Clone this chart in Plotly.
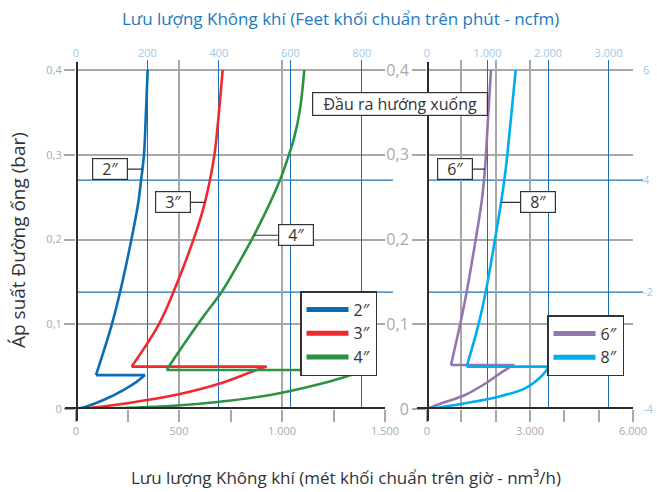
import plotly.graph_objects as go

# ---- Air flow (nm3/h) vs. line pressure (bar), one curve per outlet size ----
# each curve: rising branch to the peak flow, step back, then the upper branch
flow_2_low = [0, 52, 133, 230, 294, 335]
pres_2_low = [0, 0.003, 0.0106, 0.0224, 0.032, 0.040]
flow_2_up = [97, 173, 214, 278, 302, 316, 330, 340, 348]
pres_2_up = [0.040, 0.099, 0.138, 0.211, 0.243, 0.270, 0.300, 0.353, 0.400]

flow_3_low = [0, 133, 294, 505, 699, 876, 925]
pres_3_low = [0, 0.003, 0.0086, 0.0177, 0.030, 0.046, 0.050]
flow_3_up = [270, 400, 473, 586, 625, 650, 672, 690, 712]
pres_3_up = [0.050, 0.099, 0.138, 0.211, 0.243, 0.270, 0.300, 0.340, 0.400]

flow_4_low = [0, 214, 456, 699, 942, 1184, 1379, 1432]
pres_4_low = [0, 0.001, 0.0035, 0.0086, 0.0165, 0.0295, 0.043, 0.046]
flow_4_up = [440, 521, 618, 707, 780, 877, 990, 1031, 1058, 1087, 1108]
pres_4_up = [0.046, 0.0755, 0.109, 0.138, 0.168, 0.211, 0.270, 0.298, 0.319, 0.353, 0.400]

flow_6_low = [0, 427, 1107, 1738, 2272, 2543]
pres_6_low = [0, 0.0067, 0.0165, 0.031, 0.046, 0.052]
flow_6_up = [699, 961, 1155, 1418, 1600, 1690, 1780, 1864]
pres_6_up = [0.052, 0.099, 0.138, 0.200, 0.247, 0.284, 0.345, 0.400]

flow_8_low = [0, 330, 1107, 2078, 2854, 3340, 3553]
pres_8_low = [0, 0.0015, 0.0067, 0.0145, 0.0244, 0.039, 0.050]
flow_8_up = [1155, 1495, 1709, 1980, 2155, 2252, 2340, 2470, 2583]
pres_8_up = [0.050, 0.099, 0.138, 0.200, 0.243, 0.270, 0.300, 0.353, 0.400]

# axis ticks
pres_ticks = [0, 0.1, 0.2, 0.3, 0.4]
nm3h_left_ticks = [0, 500, 1000, 1500]
nm3h_left_text = ["0", "500", "1.000", "1.500"]
nm3h_left_minor = [250, 750, 1250]
nm3h_right_ticks = [0, 1000, 2000, 3000, 6000]
nm3h_right_text = ["0", "", "", "3.000", "6.000"]
nm3h_right_minor = [4000, 5000]
ncfm_left_ticks = [0, 200, 400, 600, 800]
ncfm_left_text = ["0", "200", "400", "600", "800"]
ncfm_right_ticks = [0, 1000, 2000, 3000]
ncfm_right_text = ["0", "1.000", "2.000", "3.000"]
psi_ticks = [0, 0.138, 0.27, 0.4]
psi_text = ["-4", "-2", "4", "6"]

COL = {"2″": "#0a6db3", "3″": "#ee2a2f", "4″": "#2e9243",
       "6″": "#9475ae", "8″": "#00adef"}
GRID = "#a8a8a8"
BLUE_GRID = "#1c6fb6"
AXIS = "#2b2b2b"
TXT = "#333333"
LIGHT_BLUE = "#9cc8ea"
W, H = 657, 492

X_LEFT = [76 / W, 385 / W]
X_RIGHT = [427 / W, 633 / W]
Y_DOM = [1 - 409 / H, 1 - 60 / H]
Y_RANGE = [0, 0.4 * (409 - 60) / (409 - 70)]

series = [
    ("2″", flow_2_low, pres_2_low, flow_2_up, pres_2_up, "x", "y", "legend"),
    ("3″", flow_3_low, pres_3_low, flow_3_up, pres_3_up, "x", "y", "legend"),
    ("4″", flow_4_low, pres_4_low, flow_4_up, pres_4_up, "x", "y", "legend"),
    ("6″", flow_6_low, pres_6_low, flow_6_up, pres_6_up, "x2", "y2", "legend2"),
    ("8″", flow_8_low, pres_8_low, flow_8_up, pres_8_up, "x2", "y2", "legend2"),
]

fig = go.Figure()
for name, lx, ly, ux, uy, xa, ya, lg in series:
    segments = [
        (lx, ly, "spline"),                            # rising branch
        ([lx[-1], ux[0]], [ly[-1], uy[0]], "linear"),  # step back
        (ux, uy, "spline"),                            # upper branch
    ]
    for sx, sy, shape in segments:
        fig.add_trace(go.Scatter(
            x=sx, y=sy, xaxis=xa, yaxis=ya, mode="lines", name=name,
            legendgroup=name, showlegend=False, hoverinfo="skip",
            line=dict(color=COL[name], width=2.6, shape=shape,
                      smoothing=1.1 if shape == "spline" else None)))
    # thicker swatch for the legend
    fig.add_trace(go.Scatter(
        x=[None], y=[None], xaxis=xa, yaxis=ya, mode="lines", name=name,
        legendgroup=name, line=dict(color=COL[name], width=5), legend=lg,
        showlegend=True))

# empty traces so the secondary scales are drawn
for xa, ya in [("x3", "y"), ("x4", "y2"), ("x2", "y3")]:
    fig.add_trace(go.Scatter(x=[None], y=[None], xaxis=xa, yaxis=ya,
                             showlegend=False, hoverinfo="skip"))

tick_font = dict(family="Open Sans", size=11, color="#aaaaaa")
blue_font = dict(family="Open Sans", size=11, color=LIGHT_BLUE)

common_x = dict(showline=False, zeroline=False, ticks="outside", ticklen=12,
                tickwidth=1.5, tickcolor=GRID, showgrid=True, gridcolor=GRID,
                gridwidth=1.5, tickfont=tick_font, tickmode="array", automargin=False)
fig.update_layout(
    xaxis=dict(domain=X_LEFT, range=[0, 1500], anchor="y",
               tickvals=nm3h_left_ticks, ticktext=nm3h_left_text,
               minor=dict(tickmode="array", tickvals=nm3h_left_minor, ticks="outside",
                          ticklen=12, tickwidth=1.5, tickcolor=GRID, showgrid=False),
               **common_x),
    xaxis2=dict(domain=X_RIGHT, range=[0, 6000], anchor="y2",
                tickvals=nm3h_right_ticks, ticktext=nm3h_right_text,
                minor=dict(tickmode="array", tickvals=nm3h_right_minor, ticks="outside",
                           ticklen=12, tickwidth=1.5, tickcolor=GRID, showgrid=False),
                **common_x),
    xaxis3=dict(overlaying="x", side="top", anchor="y", range=[0, 865],
                tickmode="array", tickvals=ncfm_left_ticks, ticktext=ncfm_left_text,
                showgrid=True, gridcolor=BLUE_GRID, gridwidth=1.2, zeroline=False,
                showline=False, ticks="", tickfont=blue_font, automargin=False),
    xaxis4=dict(overlaying="x2", side="top", anchor="y2", range=[0, 3405],
                tickmode="array", tickvals=ncfm_right_ticks, ticktext=ncfm_right_text,
                showgrid=True, gridcolor=BLUE_GRID, gridwidth=1.2, zeroline=False,
                showline=False, ticks="", tickfont=blue_font, automargin=False),
    yaxis=dict(domain=Y_DOM, range=Y_RANGE, anchor="x", tickmode="array",
               tickvals=pres_ticks, ticks="outside", ticklen=11, tickwidth=1.5,
               tickcolor=GRID, showgrid=True, gridcolor=GRID, gridwidth=1.5,
               zeroline=False, showline=False, tickfont=tick_font, automargin=False),
    yaxis2=dict(domain=Y_DOM, range=Y_RANGE, anchor="x2", tickmode="array",
                tickvals=pres_ticks, ticks="outside", ticklen=14, tickwidth=1.5,
                tickcolor=GRID, showgrid=True, gridcolor=GRID, gridwidth=1.5,
                zeroline=False, showline=False, automargin=False,
                tickfont=dict(family="Open Sans", size=16, color="#aaaaaa")),
    yaxis3=dict(overlaying="y2", side="right", anchor="free", position=642 / W,
                range=Y_RANGE, tickmode="array", tickvals=psi_ticks, ticktext=psi_text,
                showgrid=False, zeroline=False, showline=False, ticks="",
                tickfont=blue_font, automargin=False),
)

shapes = []
# psi reference lines
for v in psi_ticks[1:3]:
    shapes.append(dict(type="line", xref="x domain", yref="y", x0=0, x1=(393 - 76) / 309,
                       y0=v, y1=v, line=dict(color=BLUE_GRID, width=1.2), layer="below"))
    shapes.append(dict(type="line", xref="x2 domain", yref="y2", x0=0, x1=(643 - 427) / 206,
                       y0=v, y1=v, line=dict(color=BLUE_GRID, width=1.2), layer="below"))
# heavy black axes
for xa, ya, x_start, x_end in [("x", "y", 65 / W, 385 / W), ("x2", "y2", 417 / W, 633 / W)]:
    shapes.append(dict(type="line", xref=xa, yref="paper", x0=0, x1=0,
                       y0=1 - 421 / H, y1=1 - 62 / H,
                       line=dict(color=AXIS, width=4), layer="above"))
    shapes.append(dict(type="line", xref="paper", yref=ya, x0=x_start, x1=x_end,
                       y0=0, y1=0, line=dict(color=AXIS, width=4), layer="above"))

box = dict(font=dict(family="Open Sans", size=16, color=TXT), bgcolor="white",
           bordercolor=TXT, borderwidth=1.2, borderpad=1)
annotations = [
    dict(text="Lưu lượng Không khí (Feet khối chuẩn trên phút - ncfm)", xref="paper",
         yref="paper", x=340 / W, y=1 - 18 / H, xanchor="center", yanchor="middle",
         showarrow=False, font=dict(family="Open Sans", size=17, color="#2279bf")),
    dict(text="Lưu lượng Không khí (mét khối chuẩn trên giờ - nm³/h)", xref="paper",
         yref="paper", x=346 / W, y=1 - 477 / H, xanchor="center", yanchor="middle",
         showarrow=False, font=dict(family="Open Sans", size=17, color=TXT)),
    dict(text="Áp suất Đường ống (bar)", xref="paper", yref="paper", x=18 / W,
         y=1 - 240 / H, xanchor="center", yanchor="middle", showarrow=False,
         textangle=-90, font=dict(family="Open Sans", size=19, color=TXT)),
    dict(text="Đầu ra hướng xuống", xref="paper", yref="paper", x=400 / W,
         y=1 - 104 / H, xanchor="center", yanchor="middle", showarrow=False,
         width=172, height=20, **box),
]
# size labels with leader lines to their curve
callouts = [("2″", "x", "y", 323, 0.283, -33), ("3″", "x", "y", 625, 0.2437, -32),
            ("4″", "x", "y", 865, 0.205, 42), ("6″", "x2", "y2", 1690, 0.283, -30),
            ("8″", "x2", "y2", 2159, 0.2437, 37)]
for name, xa, ya, xv, yv, dx in callouts:
    annotations.append(dict(text=name, xref=xa, yref=ya, x=xv, y=yv, showarrow=True,
                            arrowhead=0, arrowwidth=1.2, arrowcolor=TXT, ax=dx, ay=0,
                            width=32, height=18, **box))

legend_style = dict(bgcolor="white", bordercolor=TXT, borderwidth=1.5,
                    font=dict(family="Open Sans", size=16, color=TXT),
                    xanchor="left", yanchor="top", itemwidth=42, tracegroupgap=0)
fig.update_layout(
    width=W, height=H, margin=dict(l=0, r=0, t=0, b=0, autoexpand=False),
    paper_bgcolor="white", plot_bgcolor="white", separators=",.",
    shapes=shapes, annotations=annotations, showlegend=True,
    legend=dict(x=300 / W, y=1 - 291 / H, **legend_style),
    legend2=dict(x=547 / W, y=1 - 315 / H, **legend_style),
)

fig.write_html("out.html")
